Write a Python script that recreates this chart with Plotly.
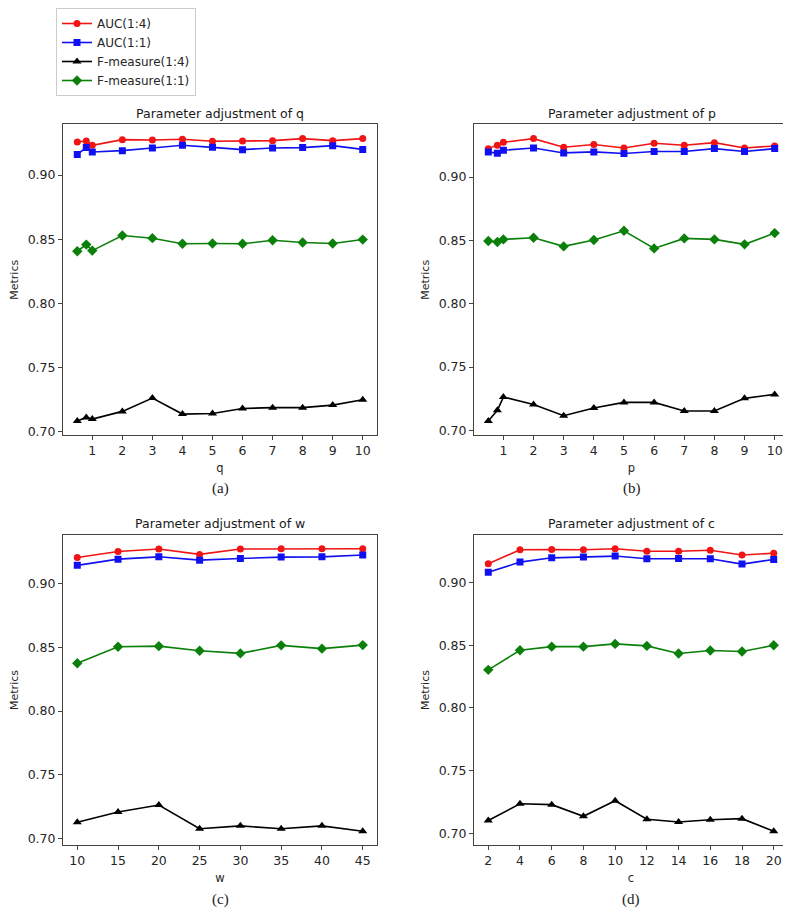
import plotly.graph_objects as go
from plotly.subplots import make_subplots

# ---------------- data ----------------
series_names = ["AUC(1:4)", "AUC(1:1)", "F-measure(1:4)", "F-measure(1:1)"]

q_x = [0.5, 0.8, 1, 2, 3, 4, 5, 6, 7, 8, 9, 10]
q_auc14 = [0.9258, 0.9266, 0.9232, 0.9276, 0.9273, 0.9279, 0.9263, 0.9266, 0.9268, 0.9284, 0.9268, 0.9284]
q_auc11 = [0.9161, 0.9214, 0.9180, 0.9190, 0.9211, 0.9232, 0.9216, 0.9198, 0.9211, 0.9214, 0.9229, 0.9200]
q_f14 = [0.7083, 0.7111, 0.7098, 0.7158, 0.7262, 0.7137, 0.7142, 0.7181, 0.7187, 0.7187, 0.7207, 0.7249]
q_f11 = [0.8406, 0.8458, 0.8411, 0.8529, 0.8508, 0.8464, 0.8466, 0.8464, 0.8492, 0.8474, 0.8466, 0.8497]

p_x = [0.5, 0.8, 1, 2, 3, 4, 5, 6, 7, 8, 9, 10]
p_auc14 = [0.9223, 0.9251, 0.9275, 0.9304, 0.9236, 0.9257, 0.9230, 0.9267, 0.9251, 0.9272, 0.9230, 0.9246]
p_auc11 = [0.9199, 0.9188, 0.9212, 0.9230, 0.9191, 0.9199, 0.9186, 0.9202, 0.9202, 0.9225, 0.9202, 0.9225]
p_f14 = [0.7074, 0.7158, 0.7263, 0.7205, 0.7116, 0.7176, 0.7221, 0.7221, 0.7153, 0.7153, 0.7253, 0.7284]
p_f11 = [0.8495, 0.8487, 0.8508, 0.8521, 0.8453, 0.8503, 0.8576, 0.8437, 0.8516, 0.8508, 0.8469, 0.8558]

w_x = [10, 15, 20, 25, 30, 35, 40, 45]
w_auc14 = [0.9206, 0.9253, 0.9272, 0.9230, 0.9272, 0.9274, 0.9274, 0.9274]
w_auc11 = [0.9144, 0.9193, 0.9211, 0.9185, 0.9198, 0.9209, 0.9211, 0.9225]
w_f14 = [0.7128, 0.7208, 0.7263, 0.7076, 0.7099, 0.7076, 0.7099, 0.7057]
w_f11 = [0.8375, 0.8505, 0.8510, 0.8474, 0.8453, 0.8516, 0.8490, 0.8518]

c_x = [2, 4, 6, 8, 10, 12, 14, 16, 18, 20]
c_auc14 = [0.9151, 0.9262, 0.9265, 0.9262, 0.9270, 0.9251, 0.9251, 0.9259, 0.9220, 0.9235]
c_auc11 = [0.9082, 0.9164, 0.9198, 0.9204, 0.9212, 0.9191, 0.9193, 0.9191, 0.9148, 0.9185]
c_f14 = [0.7101, 0.7235, 0.7228, 0.7135, 0.7259, 0.7111, 0.7090, 0.7108, 0.7116, 0.7016]
c_f11 = [0.8304, 0.8460, 0.8489, 0.8489, 0.8511, 0.8495, 0.8434, 0.8458, 0.8450, 0.8500]

qp_ticks = [1, 2, 3, 4, 5, 6, 7, 8, 9, 10]
w_ticks = [10, 15, 20, 25, 30, 35, 40, 45]
c_ticks = [2, 4, 6, 8, 10, 12, 14, 16, 18, 20]
y_ticks = [0.70, 0.75, 0.80, 0.85, 0.90]

panels = [
    dict(x=q_x, ys=[q_auc14, q_auc11, q_f14, q_f11], ticks=qp_ticks, param="q", label="(a)"),
    dict(x=p_x, ys=[p_auc14, p_auc11, p_f14, p_f11], ticks=qp_ticks, param="p", label="(b)"),
    dict(x=w_x, ys=[w_auc14, w_auc11, w_f14, w_f11], ticks=w_ticks, param="w", label="(c)"),
    dict(x=c_x, ys=[c_auc14, c_auc11, c_f14, c_f11], ticks=c_ticks, param="c", label="(d)"),
]

# ---------------- style ----------------
W, H = 791, 915
FONT = "DejaVu Sans"
colors = ["#f01414", "#1010f0", "#000000", "#0a800a"]
symbols = ["circle", "square", "triangle-up", "diamond"]
msizes = [7, 7, 8, 8]
AXC = "#444444"

# pixel boxes (left, right, top, bottom)
boxes = [(55, 369, 117, 429), (466, 781, 117, 429), (55, 369, 529, 841), (466, 780, 529, 841)]


def pad(lo, hi, f=0.05):
    d = (hi - lo) * f
    return [lo - d, hi + d]


fig = make_subplots(rows=2, cols=2)
pos = [(1, 1), (1, 2), (2, 1), (2, 2)]

annotations = []
for i, pn in enumerate(panels):
    r, c = pos[i]
    for k in range(4):
        fig.add_trace(
            go.Scatter(
                x=pn["x"], y=pn["ys"][k], mode="lines+markers",
                name=series_names[k],
                showlegend=(i == 0),
                line=dict(color=colors[k], width=1.6),
                marker=dict(symbol=symbols[k], size=msizes[k], color=colors[k]),
            ),
            row=r, col=c,
        )
    L, R, T, B = boxes[i]
    allv = [v for s in pn["ys"] for v in s]
    xs = pn["x"]
    axis_common = dict(
        showline=True, mirror=True, linecolor=AXC, linewidth=1,
        ticks="outside", ticklen=4, tickcolor=AXC, tickwidth=1,
        showgrid=False, zeroline=False,
        tickfont=dict(family=FONT, size=12.5, color="#262626"),
    )
    fig.update_xaxes(
        domain=[L / W, R / W], range=pad(min(xs), max(xs)),
        tickmode="array", tickvals=pn["ticks"], ticktext=[str(t) for t in pn["ticks"]],
        title=dict(text=pn["param"], font=dict(family=FONT, size=11.5, color="#262626"), standoff=6),
        row=r, col=c, **axis_common,
    )
    fig.update_yaxes(
        domain=[(H - B) / H, (H - T) / H], range=pad(min(allv), max(allv)),
        tickmode="array", tickvals=y_ticks, ticktext=["%.2f" % t for t in y_ticks],
        title=dict(text="Metrics", font=dict(family=FONT, size=11, color="#262626"), standoff=6),
        row=r, col=c, **axis_common,
    )
    cx = (L + R) / 2 / W
    annotations.append(dict(
        text="Parameter adjustment of " + pn["param"], x=cx, y=(H - (T - 11)) / H,
        xref="paper", yref="paper", xanchor="center", yanchor="middle", showarrow=False,
        font=dict(family=FONT, size=12.5, color="#1a1a1a"),
    ))
    annotations.append(dict(
        text=pn["label"], x=cx, y=(H - (B + 54)) / H,
        xref="paper", yref="paper", xanchor="center", yanchor="middle", showarrow=False,
        font=dict(family="Liberation Serif", size=15, color="#1a1a1a"),
    ))

fig.update_layout(
    width=W, height=H,
    margin=dict(l=0, r=0, t=0, b=0),
    plot_bgcolor="white", paper_bgcolor="white",
    annotations=annotations,
    legend=dict(
        x=48 / W, y=1.0, xanchor="left", yanchor="top",
        bordercolor="#cccccc", borderwidth=1, bgcolor="white",
        font=dict(family=FONT, size=12, color="#262626"),
        itemwidth=30,
    ),
)

fig.write_html("out.html")
